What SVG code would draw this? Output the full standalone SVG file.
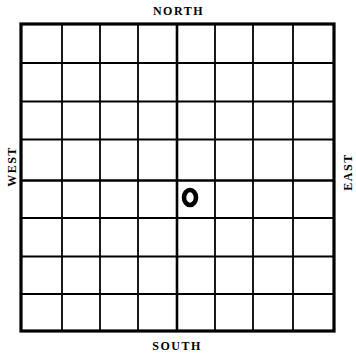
<svg xmlns="http://www.w3.org/2000/svg" width="356" height="354" viewBox="0 0 356 354">
<style>
.thin{stroke:#000;stroke-width:1.8;fill:none}
.mid{stroke:#000;stroke-width:2.6;fill:none}
.lbl{font-family:"Liberation Serif",serif;font-weight:bold;font-size:12px;letter-spacing:1.5px;fill:#000;text-anchor:middle}
</style>
<rect width="356" height="354" fill="#fff"/>
<g id="grid">
<g class="thin">
<line x1="62" y1="24" x2="62" y2="331"/>
<line x1="100" y1="24" x2="100" y2="331"/>
<line x1="138" y1="24" x2="138" y2="331"/>
<line x1="215" y1="24" x2="215" y2="331"/>
<line x1="253" y1="24" x2="253" y2="331"/>
<line x1="293" y1="24" x2="293" y2="331"/>
<line x1="21" y1="63" x2="334" y2="63"/>
<line x1="21" y1="101.5" x2="334" y2="101.5"/>
<line x1="21" y1="139.5" x2="334" y2="139.5"/>
<line x1="21" y1="218" x2="334" y2="218"/>
<line x1="21" y1="256.5" x2="334" y2="256.5"/>
<line x1="21" y1="294" x2="334" y2="294"/>
</g>
<g class="mid">
<line x1="177" y1="24" x2="177" y2="331"/>
<line x1="21" y1="180.5" x2="334" y2="180.5"/>
</g>
<rect x="21" y="24" width="313" height="307" fill="none" stroke="#000" stroke-width="3.2"/>
</g>
<g id="marker">
<ellipse cx="190" cy="197.5" rx="6" ry="7.5" fill="none" stroke="#000" stroke-width="4.6"/>
</g>
<g id="labels">
<text class="lbl" x="178.5" y="15">NORTH</text>
<text class="lbl" x="177" y="350">SOUTH</text>
<text class="lbl" transform="translate(15.5,166.5) rotate(-90)">WEST</text>
<text class="lbl" transform="translate(352,172) rotate(-90)">EAST</text>
</g>
</svg>
